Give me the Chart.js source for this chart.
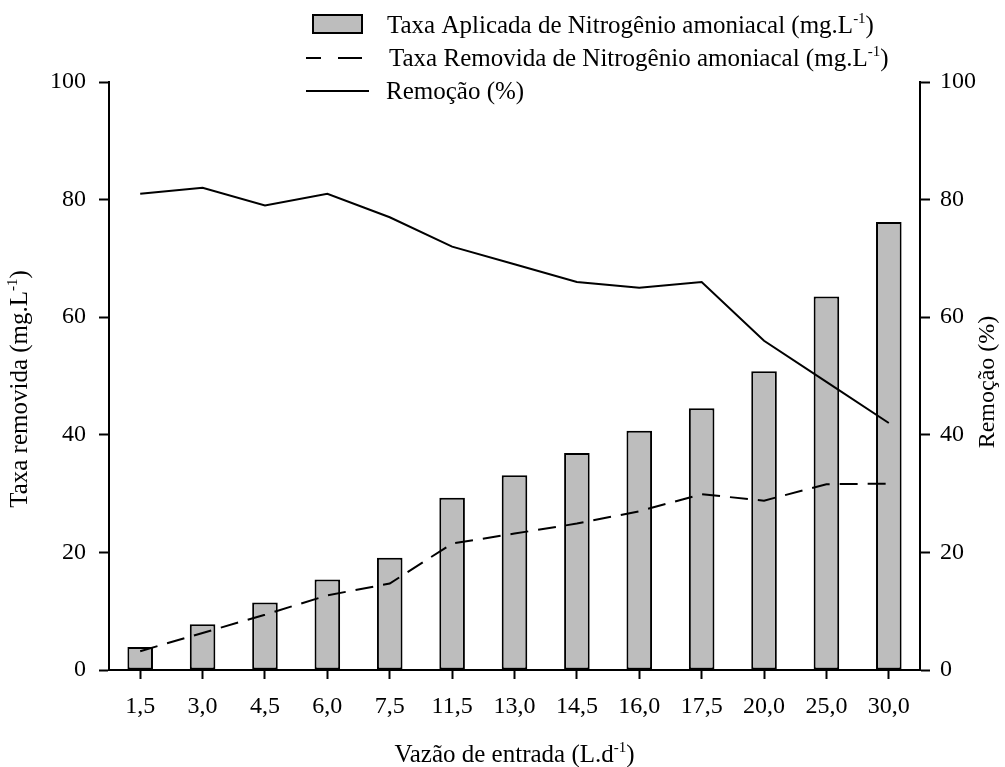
<!DOCTYPE html>
<html>
<head>
<meta charset="utf-8">
<title>Nitrogênio amoniacal</title>
<script src="https://cdn.jsdelivr.net/npm/chart.js"></script>
<style>
  body { margin: 0; background: #fff; }
  #wrap { width: 1005px; height: 767px; }
</style>
</head>
<body>
<div id="wrap"><canvas id="nitroChart" width="1005" height="767"></canvas></div>
<script>
// vazão de entrada (L/d)
const vazoes = ["1,5", "3,0", "4,5", "6,0", "7,5", "11,5", "13,0", "14,5", "16,0", "17,5", "20,0", "25,0", "30,0"];
// taxa aplicada (mg/L) - barras
const taxaAplicada = [3.9, 7.8, 11.5, 15.4, 19.1, 29.3, 33.1, 36.9, 40.7, 44.5, 50.8, 63.5, 76.2];
// taxa removida (mg/L) - linha tracejada
const taxaRemovida = [3.2, 6.3, 9.4, 12.7, 14.7, 21.5, 23.2, 24.9, 27.0, 29.9, 28.8, 31.6, 31.7];
// remoção (%) - linha contínua, eixo da direita
const remocao = [81, 82, 79, 81, 77, 72, 69, 66, 65, 66, 56, 49, 42];
const yTicks = [0, 20, 40, 60, 80, 100];

const FONT = "Liberation Serif, 'Times New Roman', serif";
const TICK_SIZE = 24;
const SUP = 15;
const GRAY = "#bdbdbd";

// text with a "-1" superscript piece
function richWidth(ctx, parts, size) {
  let w = 0;
  parts.forEach((p) => {
    ctx.font = (p.sup ? SUP : size) + "px " + FONT;
    w += ctx.measureText(p.t).width;
  });
  return w;
}

function drawRich(ctx, parts, x, y, size) {
  ctx.textBaseline = "alphabetic";
  ctx.textAlign = "left";
  parts.forEach((p) => {
    ctx.font = (p.sup ? SUP : size) + "px " + FONT;
    ctx.fillText(p.t, x, p.sup ? y - 10 : y);
    x += ctx.measureText(p.t).width;
  });
}

const unitMgL = [{ t: "(mg.L" }, { t: "-1", sup: true }, { t: ")" }];

const extrasPlugin = {
  id: "extras",
  afterDraw(chart) {
    const ctx = chart.ctx;
    const area = chart.chartArea;
    ctx.save();
    ctx.fillStyle = "#000";
    ctx.strokeStyle = "#000";

    // legend
    ctx.lineWidth = 2;
    ctx.fillStyle = GRAY;
    ctx.fillRect(313, 15, 49, 18);
    ctx.strokeRect(313, 15, 49, 18);
    ctx.fillStyle = "#000";
    drawRich(ctx, [{ t: "Taxa Aplicada de Nitrogênio amoniacal " }].concat(unitMgL), 387, 33, 25);

    ctx.beginPath();
    ctx.moveTo(306, 58); ctx.lineTo(321, 58);
    ctx.moveTo(338, 58); ctx.lineTo(362, 58);
    ctx.stroke();
    drawRich(ctx, [{ t: "Taxa Removida de Nitrogênio amoniacal " }].concat(unitMgL), 389, 66, 25);

    ctx.beginPath();
    ctx.moveTo(306, 91); ctx.lineTo(369, 91);
    ctx.stroke();
    drawRich(ctx, [{ t: "Remoção (%)" }], 386, 99, 25);

    // x axis title
    const xParts = [{ t: "Vazão de entrada (L.d" }, { t: "-1", sup: true }, { t: ")" }];
    const xw = richWidth(ctx, xParts, 25);
    drawRich(ctx, xParts, (area.left + area.right) / 2 - xw / 2, 762, 25);

    // left axis title
    const yParts = [{ t: "Taxa removida " }].concat(unitMgL);
    const yw = richWidth(ctx, yParts, 25);
    ctx.save();
    ctx.translate(27, 389);
    ctx.rotate(-Math.PI / 2);
    drawRich(ctx, yParts, -yw / 2, 0, 25);
    ctx.restore();

    // right axis title
    const rParts = [{ t: "Remoção (%)" }];
    const rw = richWidth(ctx, rParts, 24);
    ctx.save();
    ctx.translate(994, 382);
    ctx.rotate(-Math.PI / 2);
    drawRich(ctx, rParts, -rw / 2, 0, 24);
    ctx.restore();

    ctx.restore();
  },
};

function axisStyle(extra) {
  return Object.assign({
    min: 0,
    max: 100,
    grid: {
      drawOnChartArea: false,
      drawTicks: true,
      tickLength: 10,
      tickColor: "#000",
      tickWidth: 2,
    },
    border: { display: true, color: "#000", width: 2 },
  }, extra);
}

const ctx = document.getElementById("nitroChart").getContext("2d");
new Chart(ctx, {
  type: "bar",
  data: {
    labels: vazoes,
    datasets: [
      {
        type: "line",
        label: "Remoção (%)",
        data: remocao,
        yAxisID: "y1",
        borderColor: "#000",
        borderWidth: 2,
        pointRadius: 0,
        tension: 0,
        fill: false,
        order: 1,
      },
      {
        type: "line",
        label: "Taxa Removida de Nitrogênio amoniacal",
        data: taxaRemovida,
        yAxisID: "y",
        borderColor: "#000",
        borderWidth: 2,
        borderDash: [18, 10],
        pointRadius: 0,
        tension: 0,
        fill: false,
        order: 2,
      },
      {
        label: "Taxa Aplicada de Nitrogênio amoniacal",
        data: taxaAplicada,
        yAxisID: "y",
        backgroundColor: GRAY,
        borderColor: "#000",
        borderWidth: 2,
        borderSkipped: false,
        barPercentage: 0.41,
        categoryPercentage: 1,
        order: 3,
      },
    ],
  },
  options: {
    responsive: false,
    animation: false,
    layout: { padding: { top: 82 } },
    plugins: {
      legend: { display: false },
      tooltip: { enabled: false },
    },
    scales: {
      x: {
        type: "category",
        offset: true,
        grid: {
          drawOnChartArea: false,
          drawTicks: true,
          tickLength: 9,
          tickColor: "#000",
          tickWidth: 2,
          offset: false,
        },
        border: { display: true, color: "#000", width: 2 },
        ticks: { color: "#000", font: { family: FONT, size: TICK_SIZE }, padding: 13, maxRotation: 0 },
        afterFit: (s) => { s.height = 97; },
      },
      y: axisStyle({
        position: "left",
        afterBuildTicks: (s) => { s.ticks = yTicks.map((v) => ({ value: v })); },
        ticks: { color: "#000", font: { family: FONT, size: TICK_SIZE }, padding: 13 },
        afterFit: (s) => { s.width = 109; },
      }),
      y1: axisStyle({
        position: "right",
        afterBuildTicks: (s) => { s.ticks = yTicks.map((v) => ({ value: v })); },
        ticks: { color: "#000", font: { family: FONT, size: TICK_SIZE }, padding: 10 },
        afterFit: (s) => { s.width = 85; },
      }),
    },
  },
  plugins: [extrasPlugin],
});
</script>
</body>
</html>
